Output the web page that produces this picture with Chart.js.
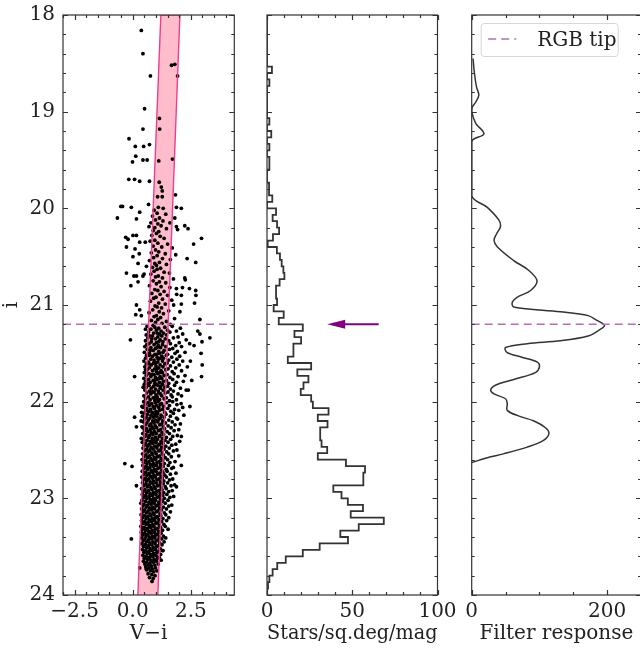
<!DOCTYPE html>
<html lang="en">
<head>
<meta charset="UTF-8">
<title>CMD, luminosity function and edge filter</title>
<script src="https://cdn.jsdelivr.net/npm/chart.js@4.4.1/dist/chart.umd.min.js"></script>
<style>
  html, body { margin: 0; padding: 0; background: #fff; width: 640px; height: 648px; overflow: hidden; }
  .panel { position: absolute; top: 0; }
</style>
</head>
<body>
<div class="panel" style="left:0"><canvas id="cmd" width="250" height="648"></canvas></div>
<div class="panel" style="left:250px"><canvas id="hist" width="220" height="648"></canvas></div>
<div class="panel" style="left:450px"><canvas id="filter" width="200" height="648"></canvas></div>
<script>
// ---- axes / ticks ----
const magTicks = [18, 19, 20, 21, 22, 23, 24];
const colorTicks = [-2.5, 0, 2.5];
const countTicks = [0, 50, 100];
const responseTicks = [0, 200];
const colorRange = [-3.0, 4.37];
const countRange = [0, 100];
const responseRange = [0, 250];

// RGB tip magnitude and the arrow in the middle panel (from, to counts)
const rgbTip = 21.2;
const arrowCounts = [65.5, 35.3];

// selection band in the CMD: V-i of its edges at i = 24 and i = 18
const bandMag = [24, 18];
const bandLeft = [0.22, 1.21];
const bandRight = [1.08, 2.03];

// stars [V-i, i]
const stars = [
  [0.37,18.16],[0.44,18.40],[0.76,18.63],[1.67,18.52],[1.81,18.51],[1.93,18.63],[0.51,18.97],[0.44,19.18],[1.15,19.07],[1.16,19.18],
  [-0.16,19.28],[0.11,19.36],[0.47,19.36],[0.72,19.34],[0.13,19.46],[-0.01,19.52],[0.44,19.50],[0.62,19.50],[1.12,19.51],[1.71,19.49],
  [-0.17,19.70],[0.08,19.70],[0.30,19.72],[0.72,19.72],[1.14,19.73],[1.23,19.78],[1.27,19.82],[1.84,19.86],[1.07,19.88],[1.27,19.88],
  [-0.51,19.98],[-0.44,19.98],[-0.66,20.10],[-0.06,19.99],[0.30,20.04],[0.16,20.11],[0.68,19.96],[1.10,19.99],[1.31,20.00],[1.88,19.99],
  [2.09,20.00],[1.42,20.06],[1.81,20.10],
  [-0.30,20.30],[-0.20,20.32],[0.01,20.28],[0.16,20.28],[0.30,20.35],[0.54,20.35],[-0.27,20.40],[0.10,20.42],[0.28,20.47],[0.01,20.50],
  [0.23,20.57],[0.59,20.60],[0.49,20.68],[-0.27,20.67],[0.05,20.70],[0.16,20.70],[0.44,20.70],[-0.08,20.80],[0.23,20.76],[2.24,20.18],
  [2.38,20.21],[2.62,20.37],[2.96,20.31],[2.34,20.52],[2.71,20.56],[1.93,20.22],[1.88,20.19],[2.24,20.72],[2.26,20.74],[2.14,20.82],
  [2.44,20.83],[1.88,20.83],[1.89,20.89],[2.09,20.90],[2.71,20.85],[2.72,20.90],[2.66,20.98],[0.16,21.00],[0.30,21.05],[0.13,21.10],
  [0.37,21.11],[2.89,21.15],[2.09,20.99],[1.76,21.00],[2.03,21.07],
  [0.92,20.02],[1.05,20.05],[0.85,20.08],[1.15,20.10],[0.98,20.12],[1.30,20.13],[0.78,20.15],[1.08,20.16],[1.22,20.18],[0.95,20.20],
  [1.45,20.21],[0.88,20.23],[1.12,20.24],[1.60,20.15],[0.70,20.19],
  [1.02,20.26],[0.82,20.28],[1.18,20.29],[1.35,20.31],[0.95,20.33],[0.75,20.34],[1.08,20.36],[1.50,20.37],[0.88,20.39],[1.25,20.40],
  [1.70,20.41],[0.98,20.43],[1.12,20.45],[0.80,20.46],[1.40,20.47],[1.05,20.49],[0.90,20.51],[1.28,20.52],[1.62,20.53],[0.72,20.54],
  [1.15,20.56],[0.95,20.57],[1.45,20.58],[1.02,20.59],[1.85,20.48],
  [0.85,20.61],[1.20,20.62],[1.05,20.63],[0.92,20.65],[1.35,20.66],[1.58,20.67],[0.78,20.68],[1.10,20.70],[0.98,20.71],[1.28,20.72],
  [1.75,20.73],[0.88,20.75],[1.15,20.76],[1.42,20.77],[1.02,20.78],[0.72,20.80],[1.22,20.81],[1.60,20.82],[0.95,20.84],[1.08,20.85],
  [1.35,20.86],[0.82,20.88],[1.18,20.89],[1.50,20.90],[1.00,20.92],[0.90,20.93],[1.28,20.94],[1.68,20.95],[0.76,20.96],[1.12,20.98],
  [1.40,20.99],[0.96,21.01],[1.05,21.02],[1.24,21.03],[0.86,21.05],[1.55,21.06],[1.14,21.07],[0.70,21.08],[1.32,21.09],[1.02,21.11],
  [0.92,21.12],[1.20,21.13],[1.80,21.14],[1.08,21.15],[0.80,21.16],[1.45,21.17],[0.98,21.18],[1.26,21.19],[1.62,21.20],[0.88,21.21],
  [0.62,21.22],[0.95,21.23],[1.12,21.24],[1.38,21.23],[1.70,21.22],[2.05,21.24],
  [0.78,21.25],[1.02,21.26],[1.22,21.27],[1.50,21.26],[0.55,21.25],[1.88,21.27],
  [0.68,21.28],[0.90,21.29],[1.15,21.30],[1.32,21.29],[1.60,21.28],[2.15,21.30],[1.05,21.29],
  [0.58,21.31],[0.85,21.32],[1.08,21.33],[1.25,21.32],[1.45,21.31],[1.95,21.33],[0.72,21.32],
  [0.65,21.34],[0.98,21.35],[1.18,21.36],[1.40,21.35],[1.75,21.34],[2.30,21.36],[0.82,21.35],
  [0.55,21.37],[0.80,21.38],[1.02,21.39],[1.30,21.38],[1.55,21.37],[2.00,21.39],[1.12,21.38],
  [0.70,21.40],[0.92,21.41],[1.10,21.42],[1.28,21.41],[1.62,21.40],[1.85,21.42],[0.60,21.41],[2.45,21.40],
  [0.52,21.43],[0.78,21.44],[0.98,21.45],[1.20,21.44],[1.42,21.43],[1.72,21.45],[1.05,21.44],[2.10,21.43],
  [0.62,21.46],[0.88,21.47],[1.12,21.48],[1.35,21.47],[1.58,21.46],[1.92,21.48],[0.75,21.47],
  [0.50,21.49],[0.72,21.50],[0.95,21.51],[1.15,21.50],[1.30,21.49],[1.50,21.51],[1.82,21.50],[2.25,21.49],[1.02,21.51],
  [0.60,21.52],[0.85,21.53],[1.05,21.54],[1.25,21.53],[1.45,21.52],[1.68,21.54],[2.02,21.53],[0.70,21.52],
  [0.55,21.55],[0.78,21.56],[0.92,21.57],[1.10,21.56],[1.32,21.55],[1.55,21.57],[1.90,21.56],[1.20,21.55],
  [0.48,21.58],[0.68,21.59],[0.90,21.60],[1.08,21.59],[1.28,21.58],[1.48,21.60],[1.75,21.59],[2.15,21.58],[0.98,21.60],
  [0.58,21.61],[0.80,21.62],[1.00,21.63],[1.18,21.62],[1.38,21.61],[1.62,21.63],[2.00,21.62],[0.70,21.61],
  [0.52,21.64],[0.72,21.65],[0.95,21.66],[1.12,21.65],[1.30,21.64],[1.52,21.66],[1.85,21.65],[2.35,21.64],[1.05,21.66],
  [0.62,21.67],[0.85,21.68],[1.02,21.69],[1.22,21.68],[1.42,21.67],[1.70,21.69],[2.10,21.68],[0.55,21.67],
  [0.50,21.70],[0.70,21.71],[0.92,21.72],[1.08,21.71],[1.28,21.70],[1.48,21.72],[1.78,21.71],[1.15,21.70],[0.82,21.72],
  [0.58,21.73],[0.78,21.74],[0.98,21.75],[1.18,21.74],[1.35,21.73],[1.60,21.75],[1.95,21.74],[2.25,21.73],
  [0.48,21.76],[0.68,21.77],[0.88,21.78],[1.05,21.77],[1.25,21.76],[1.45,21.78],[1.72,21.77],[1.12,21.76],[0.95,21.78],
  [0.55,21.79],[0.75,21.80],[0.95,21.81],[1.15,21.80],[1.32,21.79],[1.55,21.81],[1.88,21.80],[2.18,21.79],[0.62,21.81],
  [0.50,21.82],[0.70,21.83],[0.90,21.84],[1.08,21.83],[1.28,21.82],[1.50,21.84],[1.80,21.83],[1.00,21.82],[1.20,21.84],
  [0.58,21.85],[0.80,21.86],[0.98,21.87],[1.18,21.86],[1.38,21.85],[1.62,21.87],[2.05,21.86],[0.45,21.85],
  [0.52,21.88],[0.72,21.89],[0.92,21.90],[1.10,21.89],[1.30,21.88],[1.52,21.90],[1.75,21.89],[2.30,21.88],[0.85,21.90],
  [0.60,21.91],[0.78,21.92],[1.00,21.93],[1.20,21.92],[1.40,21.91],[1.65,21.93],[1.95,21.92],[1.12,21.91],
  [0.48,21.94],[0.68,21.95],[0.88,21.96],[1.05,21.95],[1.25,21.94],[1.45,21.96],[1.70,21.95],[2.10,21.94],[0.95,21.96],
  [0.55,21.97],[0.75,21.98],[0.95,21.99],[1.15,21.98],[1.35,21.97],[1.58,21.99],[1.88,21.98],[1.05,21.97],
  [0.47,22.00],[0.66,22.01],[0.81,22.02],[0.97,22.01],[1.09,22.00],[1.24,22.02],[1.46,22.01],[1.72,22.00],[2.08,22.02],
  [0.53,22.03],[0.71,22.04],[0.88,22.05],[1.02,22.04],[1.18,22.03],[1.33,22.05],[1.58,22.04],[1.90,22.03],[0.40,22.05],
  [0.45,22.06],[0.60,22.07],[0.77,22.08],[0.93,22.07],[1.12,22.06],[1.27,22.08],[1.51,22.07],[2.15,22.06],[1.80,22.08],
  [0.56,22.09],[0.69,22.10],[0.84,22.11],[1.00,22.10],[1.15,22.09],[1.38,22.11],[1.64,22.10],[1.98,22.09],[0.38,22.11],
  [0.49,22.12],[0.63,22.13],[0.79,22.14],[0.95,22.13],[1.07,22.12],[1.22,22.14],[1.43,22.13],[1.75,22.12],[2.20,22.14],
  [0.42,22.15],[0.58,22.16],[0.74,22.17],[0.90,22.16],[1.04,22.15],[1.19,22.17],[1.35,22.16],[1.62,22.15],[1.88,22.17],
  [0.51,22.18],[0.67,22.19],[0.86,22.20],[0.99,22.19],[1.13,22.18],[1.29,22.20],[1.55,22.19],[1.93,22.18],[0.36,22.20],
  [0.46,22.21],[0.61,22.22],[0.78,22.23],[0.92,22.22],[1.08,22.21],[1.25,22.23],[1.41,22.22],[1.70,22.21],[2.05,22.23],
  [0.54,22.24],[0.72,22.25],[0.83,22.26],[0.97,22.25],[1.16,22.24],[1.31,22.26],[1.52,22.25],[1.82,22.24],[0.40,22.26],
  [0.44,22.27],[0.59,22.28],[0.75,22.29],[0.89,22.28],[1.03,22.27],[1.20,22.29],[1.37,22.28],[1.65,22.27],[1.98,22.29],
  [0.50,22.30],[0.65,22.31],[0.80,22.32],[0.94,22.31],[1.11,22.30],[1.26,22.32],[1.48,22.31],[1.78,22.30],
  [0.43,22.33],[0.57,22.34],[0.73,22.35],[0.87,22.34],[1.01,22.33],[1.17,22.35],[1.33,22.34],[1.58,22.33],[1.92,22.35],
  [0.52,22.36],[0.68,22.37],[0.84,22.38],[0.98,22.37],[1.14,22.36],[1.28,22.38],[1.45,22.37],[1.72,22.36],[0.37,22.38],
  [0.46,22.39],[0.62,22.40],[0.76,22.41],[0.91,22.40],[1.06,22.39],[1.22,22.41],[1.39,22.40],[1.63,22.39],[2.02,22.41],
  [0.41,22.42],[0.55,22.43],[0.71,22.44],[0.86,22.43],[1.00,22.42],[1.15,22.44],[1.30,22.43],[1.52,22.42],[1.85,22.44],
  [0.49,22.45],[0.64,22.46],[0.79,22.47],[0.95,22.46],[1.09,22.45],[1.24,22.47],[1.42,22.46],[1.68,22.45],
  [0.44,22.48],[0.60,22.49],[0.74,22.50],[0.88,22.49],[1.04,22.48],[1.19,22.50],[1.35,22.49],[1.57,22.48],[1.90,22.50],
  [0.51,22.51],[0.66,22.52],[0.82,22.53],[0.96,22.52],[1.12,22.51],[1.27,22.53],[1.46,22.52],[1.75,22.51],
  [0.42,22.54],[0.57,22.55],[0.72,22.56],[0.86,22.55],[1.01,22.54],[1.16,22.56],[1.32,22.55],[1.55,22.54],[1.98,22.56],
  [0.48,22.57],[0.63,22.58],[0.78,22.59],[0.93,22.58],[1.07,22.57],[1.22,22.59],[1.40,22.58],[1.66,22.57],
  [0.40,22.60],[0.55,22.61],[0.70,22.62],[0.85,22.61],[0.99,22.60],[1.14,22.62],[1.29,22.61],[1.50,22.60],[1.82,22.62],
  [0.46,22.63],[0.61,22.64],[0.76,22.65],[0.90,22.64],[1.05,22.63],[1.20,22.65],[1.36,22.64],[1.60,22.63],
  [0.43,22.66],[0.58,22.67],[0.73,22.68],[0.88,22.67],[1.02,22.66],[1.17,22.68],[1.31,22.67],[1.53,22.66],[1.75,22.68],
  [0.49,22.69],[0.64,22.70],[0.80,22.71],[0.94,22.70],[1.09,22.69],[1.25,22.71],[1.44,22.70],[1.68,22.69],
  [0.41,22.72],[0.56,22.73],[0.71,22.74],[0.86,22.73],[1.00,22.72],[1.15,22.74],[1.30,22.73],[1.48,22.72],[1.86,22.74],
  [0.47,22.75],[0.62,22.76],[0.77,22.77],[0.91,22.76],[1.06,22.75],[1.21,22.77],[1.38,22.76],[1.62,22.75],
  [0.39,22.78],[0.54,22.79],[0.69,22.80],[0.84,22.79],[0.98,22.78],[1.13,22.80],[1.27,22.79],[1.45,22.78],[1.72,22.80],
  [0.45,22.81],[0.60,22.82],[0.75,22.83],[0.89,22.82],[1.04,22.81],[1.19,22.83],[1.34,22.82],[1.58,22.81],
  [0.42,22.84],[0.57,22.85],[0.72,22.86],[0.87,22.85],[1.01,22.84],[1.16,22.86],[1.31,22.85],[1.50,22.84],[1.80,22.86],
  [0.48,22.87],[0.63,22.88],[0.78,22.89],[0.92,22.88],[1.07,22.87],[1.22,22.89],[1.40,22.88],[1.65,22.87],
  [0.38,22.90],[0.53,22.91],[0.68,22.92],[0.83,22.91],[0.97,22.90],[1.12,22.92],[1.26,22.91],[1.44,22.90],[1.70,22.92],
  [0.44,22.93],[0.59,22.94],[0.74,22.95],[0.89,22.94],[1.03,22.93],[1.18,22.95],[1.33,22.94],[1.55,22.93],
  [0.41,22.96],[0.56,22.97],[0.71,22.98],[0.85,22.97],[1.00,22.96],[1.14,22.98],[1.29,22.97],[1.47,22.96],[1.76,22.98],
  [0.46,22.99],[0.61,23.00],[0.76,23.01],[0.90,23.00],[1.05,22.99],[1.20,23.01],[1.36,23.00],[1.60,22.99],
  [0.40,23.02],[0.55,23.03],[0.70,23.04],[0.84,23.03],[0.98,23.02],[1.12,23.04],[1.28,23.03],[1.52,23.02],
  [0.35,23.05],[0.48,23.06],[0.63,23.07],[0.78,23.06],[0.92,23.05],[1.06,23.07],[1.20,23.06],[1.40,23.05],[1.68,23.07],
  [0.43,23.08],[0.58,23.09],[0.72,23.10],[0.86,23.09],[1.00,23.08],[1.15,23.10],[1.32,23.09],[1.55,23.08],
  [0.38,23.11],[0.51,23.12],[0.66,23.13],[0.80,23.12],[0.94,23.11],[1.08,23.13],[1.24,23.12],[1.45,23.11],
  [0.45,23.14],[0.60,23.15],[0.74,23.16],[0.88,23.15],[1.02,23.14],[1.17,23.16],[1.36,23.15],[1.62,23.14],
  [0.36,23.17],[0.50,23.18],[0.64,23.19],[0.78,23.18],[0.92,23.17],[1.06,23.19],[1.21,23.18],[1.42,23.17],
  [0.42,23.20],[0.57,23.21],[0.71,23.22],[0.85,23.21],[0.99,23.20],[1.13,23.22],[1.30,23.21],[1.55,23.20],
  [0.38,23.23],[0.52,23.24],[0.66,23.25],[0.80,23.24],[0.94,23.23],[1.08,23.25],[1.24,23.24],[1.46,23.23],
  [0.44,23.26],[0.58,23.27],[0.72,23.28],[0.86,23.27],[1.00,23.26],[1.15,23.28],[1.34,23.27],
  [0.35,23.29],[0.49,23.30],[0.63,23.31],[0.77,23.30],[0.91,23.29],[1.05,23.31],[1.20,23.30],[1.40,23.29],
  [0.41,23.32],[0.55,23.33],[0.69,23.34],[0.83,23.33],[0.97,23.32],[1.11,23.34],[1.28,23.33],[1.52,23.32],
  [0.37,23.35],[0.51,23.36],[0.65,23.37],[0.79,23.36],[0.93,23.35],[1.07,23.37],[1.22,23.36],
  [0.43,23.38],[0.57,23.39],[0.71,23.40],[0.85,23.39],[0.99,23.38],[1.14,23.40],[1.32,23.39],
  [0.39,23.41],[0.53,23.42],[0.67,23.43],[0.81,23.42],[0.95,23.41],[1.09,23.43],[1.25,23.42],[1.42,23.41],
  [0.45,23.44],[0.59,23.45],[0.73,23.46],[0.87,23.45],[1.01,23.44],[1.16,23.46],[1.35,23.45],
  [0.40,23.47],[0.54,23.48],[0.68,23.49],[0.82,23.48],[0.96,23.47],[1.10,23.49],[1.26,23.48],
  [0.46,23.50],[0.60,23.51],[0.74,23.52],[0.88,23.51],[1.02,23.50],[1.18,23.52],
  [0.42,23.53],[0.56,23.54],[0.70,23.55],[0.84,23.54],[0.98,23.53],[1.12,23.55],[1.30,23.54],
  [0.48,23.56],[0.62,23.57],[0.76,23.58],[0.90,23.57],[1.04,23.56],[1.20,23.58],
  [0.44,23.59],[0.58,23.60],[0.72,23.61],[0.86,23.60],[1.00,23.59],[1.14,23.61],
  [0.50,23.62],[0.64,23.63],[0.78,23.64],[0.92,23.63],[1.06,23.62],[1.22,23.64],
  [0.46,23.65],[0.60,23.66],[0.74,23.67],[0.88,23.66],[1.02,23.65],
  [0.52,23.68],[0.66,23.69],[0.80,23.70],[0.95,23.69],[1.10,23.68],
  [0.56,23.71],[0.70,23.72],[0.84,23.73],[0.98,23.72],
  [0.60,23.74],[0.76,23.75],[0.90,23.76],[1.04,23.75],
  [0.66,23.78],[0.82,23.79],[0.96,23.80],[0.72,23.82],[0.88,23.83],
  [-0.10,21.36],[0.08,21.74],[2.89,21.30],[2.80,21.27],[2.98,21.38],[3.32,21.34],[2.94,21.50],[2.99,21.62],[2.96,21.74],[2.54,21.78],
  [2.39,21.88],[2.64,21.42],[2.48,21.58],[0.08,22.16],[0.16,22.26],[-0.34,22.64],[-0.03,22.67],[0.16,22.87],[-0.06,23.42],[0.30,23.72],
  [0.58,23.73],[0.83,23.86],[1.29,23.54],[2.09,22.36],[2.09,22.66],[1.88,22.88],[2.46,22.05]
];

// luminosity function, bins of 1/15 mag from i = 18 to 24
const histRange = [18, 24];
const histCounts = [
  0, 0, 0, 0, 0, 0, 0, 0, 2.9, 0,
  1.4, 0, 0, 0, 0, 0, 1.4, 0, 2.5, 0,
  1.4, 0, 1.4, 1.4, 0, 0, 1.2, 1.2, 3.1, 0,
  5.3, 3.3, 5.9, 7.1, 3.5, 0.4, 5.8, 7.6, 8.6, 9.6,
  10.2, 7.4, 5.3, 5.3, 5.9, 3.9, 9.8, 6.9, 21.0, 16.1,
  20.0, 15.5, 15.5, 12.2, 25.9, 17.8, 24.3, 21.4, 19.8, 25.9,
  26.9, 36.1, 29.8, 35.5, 31.2, 31.2, 32.0, 35.3, 29.8, 46.3,
  57.5, 56.5, 56.5, 38.9, 43.7, 47.4, 56.3, 49.1, 68.5, 53.8,
  43.0, 47.5, 30.9, 21.0, 11.0, 6.0, 3.3, 1.4, 0.6, 0
];

// edge-detection filter response
const filterMag = [18.45, 18.60, 18.74, 18.83, 18.90, 18.95, 19.00, 19.12, 19.23, 19.31,
  19.87, 19.99, 20.12, 20.19, 20.26, 20.33, 20.40, 20.54, 20.64, 20.75,
  20.85, 20.92, 20.97, 21.02, 21.07, 21.11, 21.16, 21.21, 21.26, 21.32,
  21.37, 21.40, 21.44, 21.49, 21.54, 21.59, 21.64, 21.70, 21.77, 21.83,
  21.88, 21.92, 21.97, 22.02, 22.09, 22.15, 22.20, 22.27, 22.33, 22.40,
  22.47, 22.54, 22.58, 22.63];
const filterResp = [2, 4, 7, 10.5, 6, 1, 0, 6, 18, 0,
  0, 23, 40, 42.5, 37, 33, 38, 62, 84, 96.5,
  87, 67, 60, 62, 131, 172, 185, 196, 188, 172,
  131, 82, 50, 52, 74, 97, 100, 94, 62, 35,
  28, 33, 50, 52.5, 52.5, 70, 92, 109, 114, 106,
  82, 47, 23, 0];

const tipColor = '#b46fb4';
const ink = '#333';

Chart.defaults.font.family = '"DejaVu Serif", serif';
Chart.defaults.font.size = 20;
Chart.defaults.color = '#222';

const steps = (lo, hi, step) => {
  const out = [];
  for (let v = lo; v <= hi + 1e-9; v += step) out.push(+v.toFixed(4));
  return out;
};
const fmtNum = (v, d) => (v < 0 ? '\u2212' : '') + Math.abs(v).toFixed(d);

// spines + inward ticks on all four sides, like matplotlib's direction='in'
const frame = {
  id: 'frame',
  afterDatasetsDraw(chart, args, o) {
    const { ctx, chartArea: a, scales: { x, y } } = chart;
    ctx.save();
    ctx.strokeStyle = ink;
    ctx.lineWidth = 1.2;
    ctx.beginPath();
    [[o.xMajor, 5], [o.xMinor, 3]].forEach(([vals, len]) => vals.forEach(v => {
      const p = Math.round(x.getPixelForValue(v)) + 0.5;
      ctx.moveTo(p, a.bottom); ctx.lineTo(p, a.bottom - len);
      ctx.moveTo(p, a.top); ctx.lineTo(p, a.top + len);
    }));
    [[o.yMajor, 5], [o.yMinor, 3]].forEach(([vals, len]) => vals.forEach(v => {
      const p = Math.round(y.getPixelForValue(v)) + 0.5;
      ctx.moveTo(a.left, p); ctx.lineTo(a.left + len, p);
      ctx.moveTo(a.right, p); ctx.lineTo(a.right - len, p);
    }));
    ctx.stroke();
    ctx.strokeRect(a.left, a.top, a.right - a.left, a.bottom - a.top);
    ctx.restore();
  }
};

const tipArrow = {
  id: 'tipArrow',
  afterDatasetsDraw(chart) {
    const { ctx, scales: { x, y } } = chart;
    const py = y.getPixelForValue(rgbTip);
    const x1 = x.getPixelForValue(arrowCounts[0]);
    const x2 = x.getPixelForValue(arrowCounts[1]);
    ctx.save();
    ctx.strokeStyle = ctx.fillStyle = '#800080';
    ctx.lineWidth = 2;
    ctx.beginPath(); ctx.moveTo(x1, py); ctx.lineTo(x2 + 15, py); ctx.stroke();
    ctx.beginPath(); ctx.moveTo(x2, py); ctx.lineTo(x2 + 18, py - 4.5); ctx.lineTo(x2 + 18, py + 4.5); ctx.closePath(); ctx.fill();
    ctx.restore();
  }
};

const tipLegend = {
  id: 'tipLegend',
  afterDraw(chart) {
    const { ctx, chartArea: a } = chart;
    const ds = chart.data.datasets.find(d => d.borderDash);
    const x0 = a.left + 9.5, y0 = a.top + 8.5;
    ctx.save();
    ctx.fillStyle = 'rgba(255,255,255,0.8)';
    ctx.strokeStyle = '#d6d6d6';
    ctx.lineWidth = 1;
    ctx.beginPath(); ctx.roundRect(x0, y0, 137, 33, 3); ctx.fill(); ctx.stroke();
    ctx.strokeStyle = ds.borderColor;
    ctx.lineWidth = ds.borderWidth;
    ctx.setLineDash(ds.borderDash);
    ctx.beginPath(); ctx.moveTo(x0 + 7, y0 + 15.5); ctx.lineTo(x0 + 35, y0 + 15.5); ctx.stroke();
    ctx.fillStyle = '#222';
    ctx.font = '20px "DejaVu Serif"';
    ctx.textBaseline = 'middle';
    ctx.fillText(ds.label, x0 + 56, y0 + 17);
    ctx.restore();
  }
};

const yAxis = (show) => ({
  type: 'linear', reverse: true, min: magTicks[0], max: magTicks[magTicks.length - 1],
  display: show,
  grid: { display: false, drawTicks: false }, border: { display: false },
  afterBuildTicks: s => { s.ticks = magTicks.map(v => ({ value: v })); },
  ticks: { padding: 8, callback: v => String(v) },
  title: { display: show, text: 'i', padding: { top: 0, bottom: 0 } },
  afterFit: s => { if (show) s.width = 63; s.paddingTop = 0; s.paddingBottom = 0; }
});
const xAxis = (range, vals, digits, title) => ({
  type: 'linear', min: range[0], max: range[1],
  grid: { display: false, drawTicks: false }, border: { display: false },
  afterBuildTicks: s => { s.ticks = vals.map(v => ({ value: v })); },
  ticks: { padding: 5, maxRotation: 0, callback: v => fmtNum(v, digits) },
  title: { display: true, text: title, padding: { top: 0, bottom: 2 } },
  afterFit: s => { s.height = 53; s.paddingLeft = 0; s.paddingRight = 0; }
});
const base = (padding, frameTicks) => ({
  responsive: false, animation: false, devicePixelRatio: 1,
  layout: { padding },
  plugins: { legend: { display: false }, tooltip: { enabled: false },
    filler: { drawTime: 'beforeDatasetsDraw' }, frame: frameTicks }
});
const magMinor = steps(18, 24, 0.2);

// ---- CMD ----
const cmdOpts = base({ left: 0, right: 15.7, top: 15, bottom: 0 },
  { xMajor: colorTicks, xMinor: steps(-3, 4, 0.5), yMajor: magTicks, yMinor: magMinor });
cmdOpts.scales = { x: xAxis(colorRange, colorTicks, 1, 'V\u2212i'), y: yAxis(true) };
new Chart(document.getElementById('cmd'), {
  type: 'scatter',
  data: { datasets: [
    { label: 'RGB tip', data: [{ x: colorRange[0], y: rgbTip }, { x: colorRange[1], y: rgbTip }],
      showLine: true, borderColor: tipColor, borderWidth: 1.5, borderDash: [8, 5], pointRadius: 0, order: 0 },
    { label: 'band', data: [
        { x: bandLeft[0], y: bandMag[0] }, { x: bandLeft[1], y: bandMag[1] },
        { x: bandRight[1], y: bandMag[1] }, { x: bandRight[0], y: bandMag[0] }],
      showLine: true, fill: 'shape', backgroundColor: '#ffbccb', borderColor: '#ef3d8f',
      borderWidth: 1.4, pointRadius: 0, order: 0 },
    { label: 'stars', data: stars.map(([x, y]) => ({ x, y })),
      pointRadius: 1.9, pointBackgroundColor: '#000', pointBorderWidth: 0, order: 1 }
  ] },
  options: cmdOpts,
  plugins: [frame]
});

// ---- luminosity function ----
const histOpts = base({ left: 17, right: 32.5, top: 15, bottom: 0 },
  { xMajor: countTicks, xMinor: steps(0, 100, 10), yMajor: magTicks, yMinor: magMinor });
histOpts.scales = { x: xAxis(countRange, countTicks, 0, 'Stars/sq.deg/mag'), y: yAxis(false) };
const binW = (histRange[1] - histRange[0]) / histCounts.length;
const histPoints = histCounts.map((c, k) => ({ x: c, y: histRange[0] + k * binW }));
histPoints.push({ x: histCounts[histCounts.length - 1], y: histRange[1] });
new Chart(document.getElementById('hist'), {
  type: 'scatter',
  data: { datasets: [
    { label: 'LF', data: histPoints, showLine: true, stepped: 'after',
      borderColor: ink, borderWidth: 1.8, pointRadius: 0 }
  ] },
  options: histOpts,
  plugins: [frame, tipArrow]
});

// ---- filter response ----
const filtOpts = base({ left: 21.7, right: 9, top: 15, bottom: 0 },
  { xMajor: responseTicks, xMinor: steps(0, 250, 50), yMajor: magTicks, yMinor: magMinor });
filtOpts.scales = { x: xAxis(responseRange, responseTicks, 0, 'Filter response'), y: yAxis(false) };
new Chart(document.getElementById('filter'), {
  type: 'scatter',
  data: { datasets: [
    { label: 'RGB tip', data: [{ x: responseRange[0], y: rgbTip }, { x: responseRange[1], y: rgbTip }],
      showLine: true, borderColor: tipColor, borderWidth: 1.5, borderDash: [8, 5], pointRadius: 0, order: 0 },
    { label: 'response', data: filterMag.map((m, k) => ({ x: filterResp[k], y: m })),
      showLine: true, tension: 0.35, borderColor: ink, borderWidth: 1.5, pointRadius: 0, order: 1 }
  ] },
  options: filtOpts,
  plugins: [frame, tipLegend]
});
</script>
</body>
</html>
